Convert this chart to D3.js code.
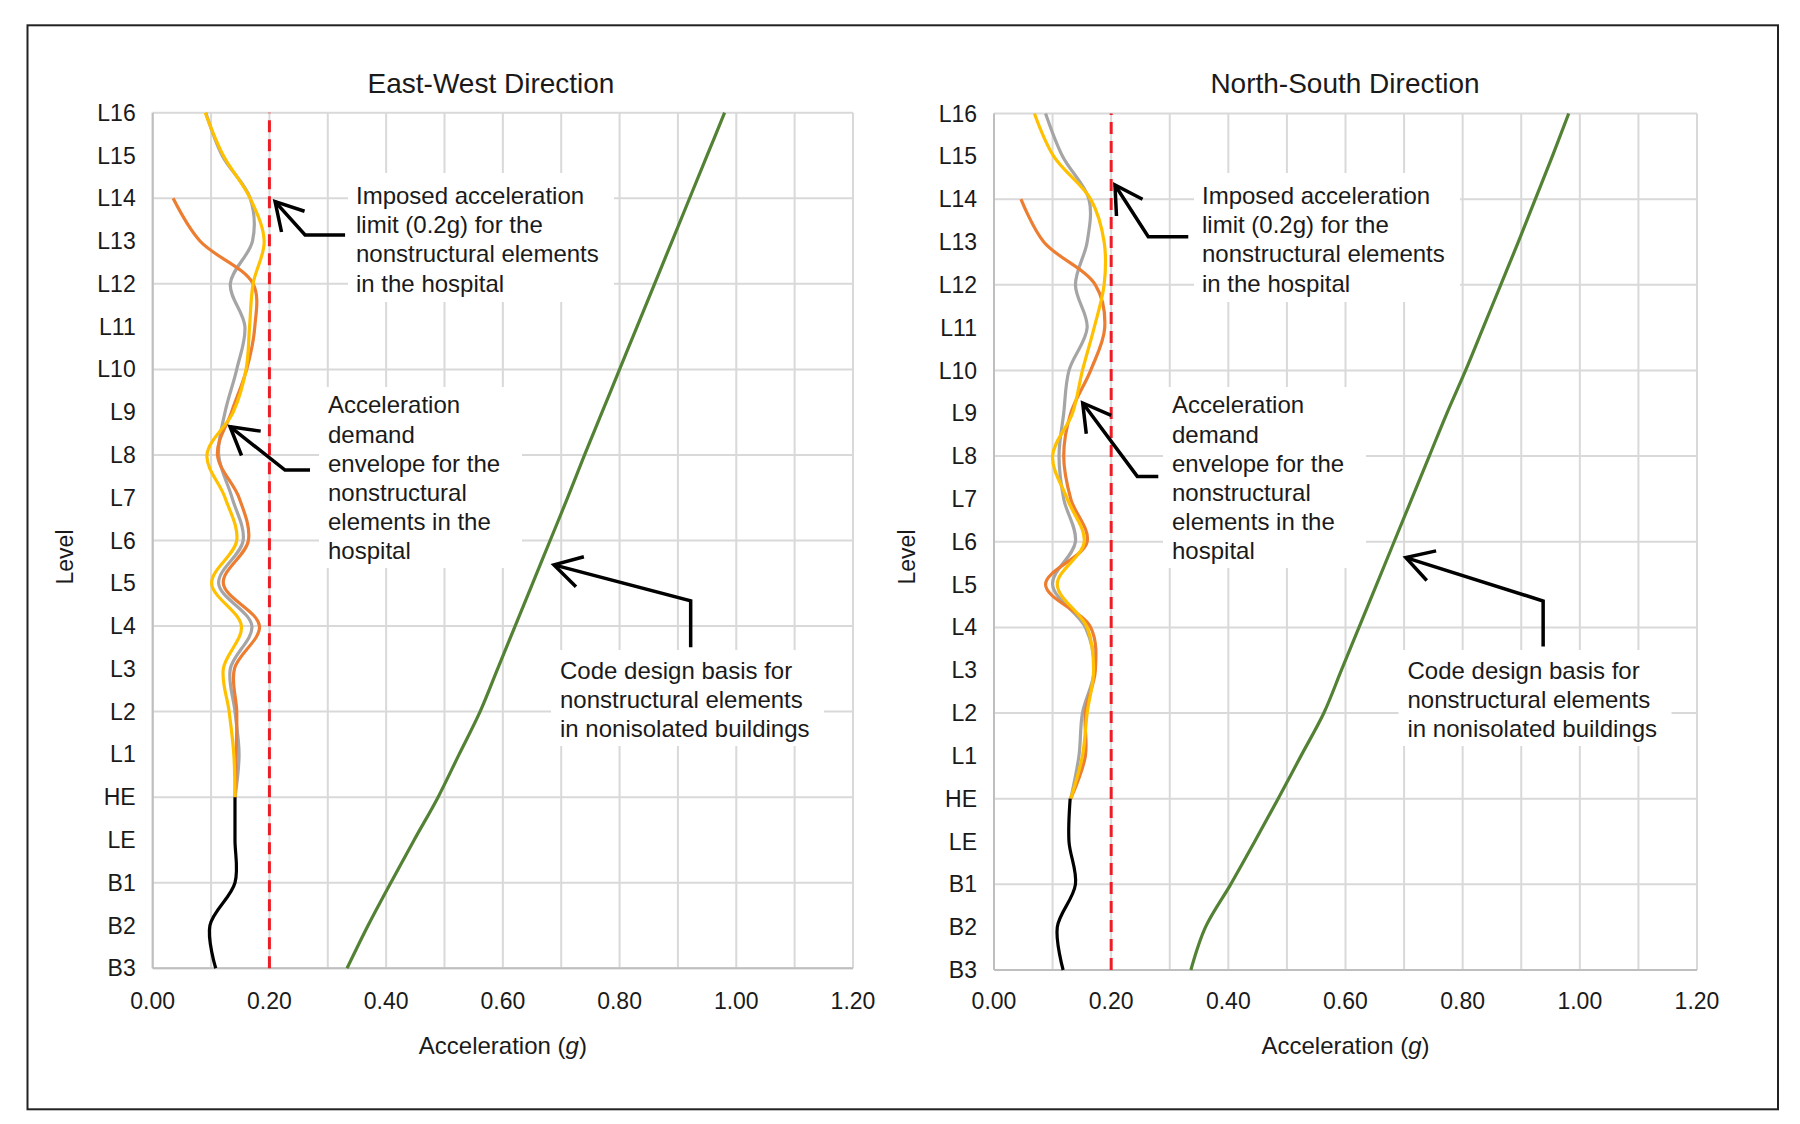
<!DOCTYPE html>
<html><head><meta charset="utf-8">
<script src="https://cdn.jsdelivr.net/npm/d3@7"></script>
<style>
body{margin:0;background:#fff}
text{font-family:"Liberation Sans",Arial,Helvetica,sans-serif;fill:#1a1a1a}
</style>
</head><body>
<svg id="c" width="1800" height="1124"></svg>
<script>
// ---------- DATA ----------
const levels = ["B3","B2","B1","LE","HE","L1","L2","L3","L4","L5","L6","L7","L8","L9","L10","L11","L12","L13","L14","L15","L16"];
const baseLevels = ["B3","B2","B1","LE","HE"];
const upperLevels = ["HE","L1","L2","L3","L4","L5","L6","L7","L8","L9","L10","L11","L12","L13","L14","L15","L16"];
const orangeLevels = ["HE","L1","L2","L3","L4","L5","L6","L7","L8","L9","L10","L11","L12","L13","L14"];
const xTickLabels = ["0.00","0.20","0.40","0.60","0.80","1.00","1.20"];
const xTickValues = [0, 0.2, 0.4, 0.6, 0.8, 1.0, 1.2];
const accelLimit = 0.2;

// East-West
const ewBlack  = [0.108,0.098,0.141,0.141,0.141];
const ewGray   = [0.141,0.148,0.141,0.133,0.170,0.113,0.155,0.136,0.113,0.124,0.144,0.158,0.133,0.171,0.167,0.119,0.091];
const ewOrange = [0.141,0.143,0.144,0.140,0.183,0.121,0.164,0.148,0.111,0.135,0.161,0.175,0.172,0.081,0.035];
const ewYellow = [0.141,0.139,0.131,0.121,0.152,0.101,0.144,0.124,0.093,0.138,0.160,0.166,0.172,0.191,0.167,0.121,0.090];
const ewCode   = [0.333,0.369,0.408,0.448,0.489,0.525,0.561,0.591,0.621,0.651,0.681,0.711,0.740,0.770,0.800,0.830,0.860,0.890,0.920,0.950,0.980];

// North-South
const nsBlack  = [0.118,0.108,0.139,0.128,0.130];
const nsGray   = [0.131,0.145,0.151,0.171,0.156,0.100,0.139,0.119,0.111,0.119,0.128,0.159,0.139,0.159,0.162,0.117,0.088];
const nsOrange = [0.131,0.156,0.156,0.173,0.165,0.088,0.159,0.131,0.119,0.131,0.165,0.189,0.173,0.085,0.046];
const nsYellow = [0.131,0.151,0.159,0.170,0.159,0.108,0.154,0.125,0.100,0.134,0.151,0.171,0.188,0.188,0.165,0.102,0.069];
const nsCode   = [0.336,0.361,0.404,0.445,0.485,0.524,0.563,0.593,0.623,0.653,0.683,0.713,0.743,0.773,0.805,0.835,0.865,0.895,0.924,0.953,0.981];

const textImposed = ["Imposed acceleration","limit (0.2g) for the","nonstructural elements","in the hospital"];
const textDemand  = ["Acceleration","demand","envelope for the","nonstructural","elements in the","hospital"];
const textCode    = ["Code design basis for","nonstructural elements","in nonisolated buildings"];

// ---------- LAYOUT ----------
const panels = [
  {title:"East-West Direction", titleX:491, xr:[152.7,853], yr:[968.3,112.7], levelX:65,
   series:{black:ewBlack, gray:ewGray, orange:ewOrange, yellow:ewYellow, code:ewCode},
   notes:[
     {lines:textImposed, tx:356, ty:195.5, box:[-8,258,173,302], tip:[0.2097,17.92], elbow:[30,33.3], end:[70,33.3]},
     {lines:textDemand, tx:328, ty:405, box:[-9,194,387,568], tip:[0.1325,12.66], elbow:[55,43.3], end:[80,43.3]},
     {lines:textCode, tx:560, ty:670.4, box:[-9,264,650,746], tip:[0.6876,9.43], elbow:[136.7,36], end:[136.7,82.3]}
   ]},
  {title:"North-South Direction", titleX:1345, xr:[994,1697], yr:[970,113.5], levelX:907,
   series:{black:nsBlack, gray:nsGray, orange:nsOrange, yellow:nsYellow, code:nsCode},
   notes:[
     {lines:textImposed, tx:1202, ty:195.5, box:[-8,258,173,302], tip:[0.2065,18.33], elbow:[33.3,51.7], end:[73.3,51.7]},
     {lines:textDemand, tx:1172, ty:405, box:[-9,194,387,568], tip:[0.1514,13.24], elbow:[54.6,73.4], end:[75.6,73.4]},
     {lines:textCode, tx:1407.5, ty:670.4, box:[-9,264,650,746], tip:[0.703,9.63], elbow:[137.3,43.4], end:[137.3,89]}
   ]}
];

const colors = {gray:"#a5a5a5", orange:"#ed7d31", yellow:"#ffc000", black:"#000000", code:"#548235"};
const FS = 23, FSN = 24;

const svg = d3.select("#c");
svg.append("rect").attr("x",27.5).attr("y",25.3).attr("width",1750.5).attr("height",1084)
  .attr("fill","none").attr("stroke","#222").attr("stroke-width",2);

panels.forEach(p => {
  const x = d3.scaleLinear().domain([0,1.2]).range(p.xr);
  const y = d3.scalePoint().domain(levels).range(p.yr);
  const yIdx = d3.scaleLinear().domain([0,levels.length-1]).range(p.yr);
  const g = svg.append("g");

  g.selectAll(".vg").data(x.ticks(12)).enter().append("line")
    .attr("x1",d=>x(d)).attr("x2",d=>x(d)).attr("y1",p.yr[0]).attr("y2",p.yr[1])
    .attr("stroke","#d9d9d9").attr("stroke-width",2);
  g.selectAll(".hg").data(levels.filter((d,i)=>i%2===0)).enter().append("line")
    .attr("x1",p.xr[0]).attr("x2",p.xr[1]).attr("y1",d=>y(d)).attr("y2",d=>y(d))
    .attr("stroke","#d9d9d9").attr("stroke-width",2);
  g.append("line").attr("x1",p.xr[0]).attr("x2",p.xr[0]).attr("y1",p.yr[0]).attr("y2",p.yr[1])
    .attr("stroke","#bfbfbf").attr("stroke-width",2);
  g.append("line").attr("x1",p.xr[0]).attr("x2",p.xr[1]).attr("y1",p.yr[0]).attr("y2",p.yr[0])
    .attr("stroke","#bfbfbf").attr("stroke-width",2);

  p.notes.forEach(n => {
    g.append("rect").attr("x",n.tx+n.box[0]).attr("y",n.box[2])
      .attr("width",n.box[1]-n.box[0]).attr("height",n.box[3]-n.box[2]).attr("fill","#fff");
  });

  g.selectAll(".yl").data(levels).enter().append("text")
    .attr("x",p.xr[0]-17).attr("y",d=>y(d)).attr("dy","0.35em").attr("text-anchor","end")
    .attr("font-size",FS).text(d=>d);
  g.selectAll(".xl").data(xTickValues).enter().append("text")
    .attr("x",d=>x(d)).attr("y",1001).attr("dy","0.35em").attr("text-anchor","middle")
    .attr("font-size",FS).text((d,i)=>xTickLabels[i]);
  g.append("text").attr("x",p.titleX).attr("y",82.7).attr("dy","0.35em").attr("text-anchor","middle")
    .attr("font-size",28).text(p.title);
  const xt = g.append("text").attr("x",(p.xr[0]+p.xr[1])/2).attr("y",1046).attr("dy","0.35em")
    .attr("text-anchor","middle").attr("font-size",24);
  xt.append("tspan").text("Acceleration (");
  xt.append("tspan").attr("font-style","italic").text("g");
  xt.append("tspan").text(")");
  g.append("text").attr("transform",`translate(${p.levelX},557) rotate(-90)`).attr("dy","0.35em")
    .attr("text-anchor","middle").attr("font-size",FS).text("Level");

  g.append("line").attr("x1",x(accelLimit)).attr("x2",x(accelLimit)).attr("y1",p.yr[0]).attr("y2",p.yr[1])
    .attr("stroke","#ee1c25").attr("stroke-width",3).attr("stroke-dasharray","12,7");

  const line = d3.line().x(d=>x(d.v)).y(d=>y(d.l)).curve(d3.curveCatmullRom.alpha(0.5));
  const draw = (lv, vals, col) => g.append("path")
    .datum(lv.map((l,i)=>({l, v:vals[i]})))
    .attr("d",line).attr("fill","none").attr("stroke",col).attr("stroke-width",3.2)
    .attr("stroke-linejoin","round").attr("stroke-linecap","butt");
  draw(upperLevels, p.series.gray, colors.gray);
  draw(orangeLevels, p.series.orange, colors.orange);
  draw(upperLevels, p.series.yellow, colors.yellow);
  draw(baseLevels, p.series.black, colors.black);
  draw(levels, p.series.code, colors.code);

  p.notes.forEach(n => {
    const t = g.append("text").attr("font-size",FSN);
    n.lines.forEach((s,i)=> t.append("tspan").attr("x",n.tx).attr("y",n.ty+i*29.2).attr("dy","0.35em").text(s));
    const tx = x(n.tip[0]), ty = yIdx(n.tip[1]);
    const ex = tx+n.elbow[0], ey = ty+n.elbow[1];
    g.append("path").attr("d",`M${tx+n.end[0]},${ty+n.end[1]}L${ex},${ey}L${tx},${ty}`)
      .attr("fill","none").attr("stroke","#000").attr("stroke-width",3.5).attr("stroke-linejoin","miter");
    const ang = Math.atan2(n.elbow[1], n.elbow[0]);
    const L = 31, a = Math.PI/6;
    const b1 = [tx+L*Math.cos(ang-a), ty+L*Math.sin(ang-a)];
    const b2 = [tx+L*Math.cos(ang+a), ty+L*Math.sin(ang+a)];
    g.append("path").attr("d",`M${b1[0]},${b1[1]}L${tx},${ty}L${b2[0]},${b2[1]}`)
      .attr("fill","none").attr("stroke","#000").attr("stroke-width",3.5).attr("stroke-linejoin","miter");
  });
});
</script>
</body></html>
